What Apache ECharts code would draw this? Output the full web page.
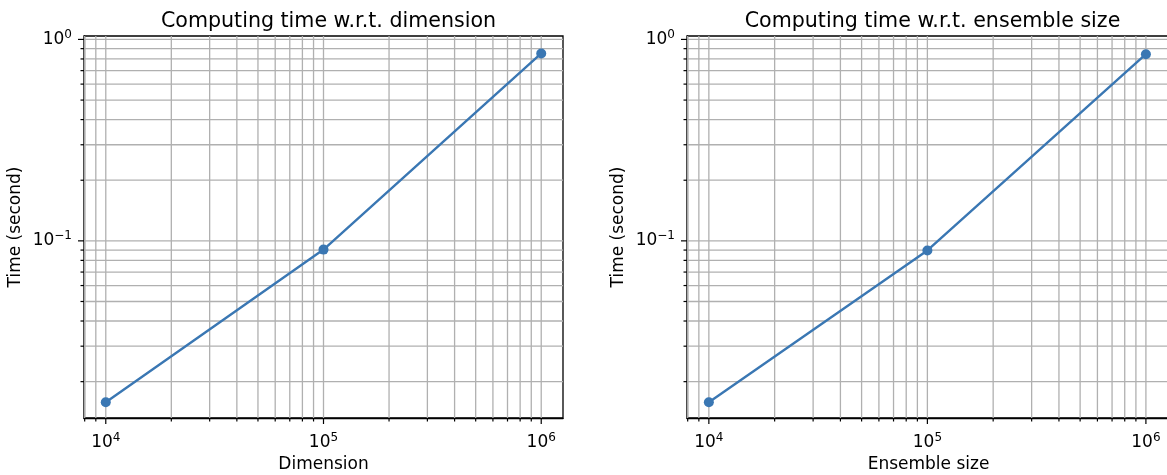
<!DOCTYPE html>
<html>
<head>
<meta charset="utf-8">
<title>Computing time</title>
<script src="https://cdn.jsdelivr.net/npm/echarts@6/dist/echarts.min.js"></script>
<style>
  html, body { margin: 0; padding: 0; background: #fff; }
  #chart { width: 1167px; height: 475px; }
</style>
</head>
<body>
<div id="chart"></div>
<script>
// data
const sizes = [1e4, 1e5, 1e6];
const timeByDimension = [0.0158, 0.0905, 0.852];
const timeByEnsemble = [0.0158, 0.0896, 0.845];

// log tick positions
const xMajor = [1e4, 1e5, 1e6];
const xMinor = [8e3, 9e3, 2e4, 3e4, 4e4, 5e4, 6e4, 7e4, 8e4, 9e4,
  2e5, 3e5, 4e5, 5e5, 6e5, 7e5, 8e5, 9e5];
const yMajor = [0.1, 1];
const yMinor = [0.02, 0.03, 0.04, 0.05, 0.06, 0.07, 0.08, 0.09,
  0.2, 0.3, 0.4, 0.5, 0.6, 0.7, 0.8, 0.9];

const titles = ['Computing time w.r.t. dimension', 'Computing time w.r.t. ensemble size'];
const xNames = ['Dimension', 'Ensemble size'];
const yName = 'Time (second)';

const FONT = 'DejaVu Sans';
const GRID_COLOR = '#b0b0b0';
const LINE_COLOR = '#3a77b3';

const chart = echarts.init(document.getElementById('chart'));

// grid positions (px) - the right panel runs slightly past the canvas edge
const grids = [
  { left: 84, top: 36, width: 479, height: 382 },
  { left: 687, top: 36, width: 483, height: 382 }
];
// the right panel's x range is stretched so the decades still line up
const xRanges = [[7943, 1258925], [7943, 1289000]];

function powLabel(v) {
  const lg = Math.log10(v);
  const e = Math.round(lg);
  if (Math.abs(lg - e) > 1e-6) return '';
  const exp = e < 0 ? '\u2212' + Math.abs(e) : String(e);
  return '{b|10}{s|' + exp + '}';
}

const labelRich = {
  b: { fontFamily: FONT, fontSize: 17, color: '#000' },
  s: { fontFamily: FONT, fontSize: 12, color: '#000', padding: [0, 0, 9, 0] }
};

// vertical gridlines + bottom ticks
function vTicks(params, api) {
  const cs = params.coordSys;
  const x = api.coord([api.value(0), 1])[0];
  const major = params.dataIndex < xMajor.length;
  const bottom = cs.y + cs.height;
  return {
    type: 'group',
    children: [
      { type: 'line', shape: { x1: x, y1: cs.y, x2: x, y2: bottom },
        style: { stroke: GRID_COLOR, lineWidth: 1.3 } },
      { type: 'line', shape: { x1: x, y1: bottom, x2: x, y2: bottom + (major ? 6 : 3.5) },
        style: { stroke: '#000', lineWidth: 1.2 } }
    ]
  };
}

// horizontal gridlines + left ticks
function hTicks(params, api) {
  const cs = params.coordSys;
  const y = api.coord([1e5, api.value(1)])[1];
  const major = params.dataIndex < yMajor.length;
  return {
    type: 'group',
    children: [
      { type: 'line', shape: { x1: cs.x, y1: y, x2: cs.x + cs.width, y2: y },
        style: { stroke: GRID_COLOR, lineWidth: 1.3 } },
      { type: 'line', shape: { x1: cs.x, y1: y, x2: cs.x - (major ? 6 : 3.5), y2: y },
        style: { stroke: '#000', lineWidth: 1.2 } }
    ]
  };
}

const series = [];
const xAxes = [];
const yAxes = [];
const titleList = [];
const seriesData = [timeByDimension, timeByEnsemble];

grids.forEach((g, i) => {
  titleList.push({
    text: titles[i],
    left: i === 0 ? 323.5 : 927.5,
    top: 6,
    textAlign: 'center',
    textStyle: { fontFamily: FONT, fontSize: 20.6, fontWeight: 'normal', color: '#000' }
  });
  xAxes.push({
    gridIndex: i,
    type: 'log',
    logBase: 10,
    min: xRanges[i][0],
    max: xRanges[i][1],
    name: xNames[i],
    nameLocation: 'middle',
    nameGap: 37,
    nameTextStyle: { fontFamily: FONT, fontSize: 17, color: '#000' },
    axisLine: { show: true, lineStyle: { color: '#000', width: 1.3 } },
    axisTick: { show: false },
    minorTick: { show: false },
    splitLine: { show: false },
    axisLabel: { formatter: powLabel, rich: labelRich, margin: 14, showMinLabel: false, showMaxLabel: false }
  });
  yAxes.push({
    gridIndex: i,
    type: 'log',
    logBase: 10,
    min: 0.0132,
    max: 1.04,
    name: yName,
    nameLocation: 'middle',
    nameRotate: 90,
    nameGap: 60,
    nameTextStyle: { fontFamily: FONT, fontSize: 17, color: '#000' },
    axisLine: { show: true, lineStyle: { color: '#000', width: 1.3 } },
    axisTick: { show: false },
    minorTick: { show: false },
    splitLine: { show: false },
    axisLabel: { formatter: powLabel, rich: labelRich, margin: 12, showMinLabel: false, showMaxLabel: false }
  });
  series.push({
    type: 'custom',
    xAxisIndex: i,
    yAxisIndex: i,
    silent: true,
    z: 1,
    renderItem: vTicks,
    data: xMajor.concat(xMinor).map(v => [v, 1])
  });
  series.push({
    type: 'custom',
    xAxisIndex: i,
    yAxisIndex: i,
    silent: true,
    z: 1,
    renderItem: hTicks,
    data: yMajor.concat(yMinor).map(v => [1e5, v])
  });
  series.push({
    type: 'line',
    xAxisIndex: i,
    yAxisIndex: i,
    z: 5,
    symbol: 'circle',
    symbolSize: 10,
    lineStyle: { color: LINE_COLOR, width: 2.4 },
    itemStyle: { color: LINE_COLOR },
    data: sizes.map((s, k) => [s, seriesData[i][k]])
  });
});

chart.setOption({
  animation: false,
  title: titleList,
  grid: grids.map(g => Object.assign({
    show: true,
    borderColor: '#000',
    borderWidth: 1.3,
    backgroundColor: 'transparent',
    outerBoundsMode: 'none',
    containLabel: false
  }, g)),
  xAxis: xAxes,
  yAxis: yAxes,
  series: series
});
</script>
</body>
</html>
